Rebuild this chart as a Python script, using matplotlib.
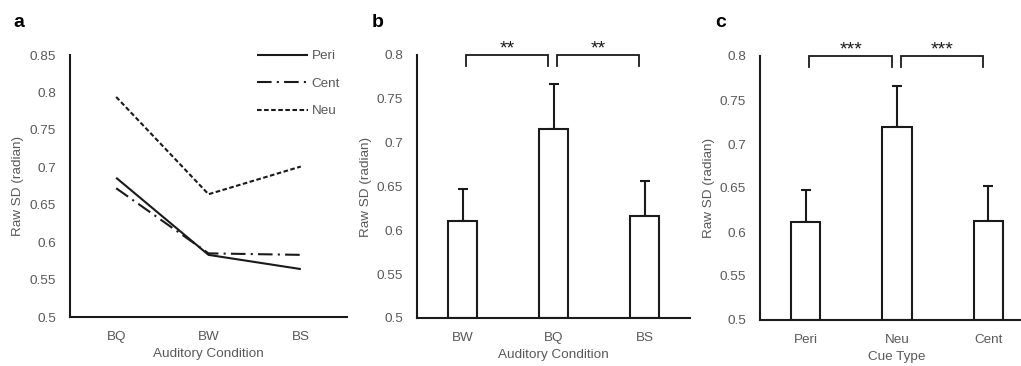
import matplotlib
matplotlib.use("Agg")
import matplotlib.pyplot as plt
from matplotlib.ticker import FuncFormatter

plt.rcParams['font.family'] = ['Liberation Sans', 'DejaVu Sans']

# ---- data ----
a_conditions = ["BQ", "BW", "BS"]
a_peri = [0.686, 0.583, 0.564]
a_cent = [0.672, 0.585, 0.583]
a_neu = [0.794, 0.664, 0.701]

b_conditions = ["BW", "BQ", "BS"]
b_means = [0.611, 0.716, 0.616]
b_err = [0.036, 0.051, 0.040]
b_sig = [(0, 1, "**"), (1, 2, "**")]

c_cues = ["Peri", "Neu", "Cent"]
c_means = [0.611, 0.719, 0.612]
c_err = [0.037, 0.047, 0.040]
c_sig = [(0, 1, "***"), (1, 2, "***")]

W, H = 1021, 366
fig = plt.figure(figsize=(W / 100, H / 100), dpi=100)

TXT = "#595959"
LC = "#1a1a1a"
FS = 9.7

def px_axes(l, r, top, bot):
    return fig.add_axes([l / W, (H - bot) / H, (r - l) / W, (bot - top) / H])

def style(ax, ylim, yticks, cats, xlabel):
    ax.set_xlim(-0.5, 2.5)
    ax.set_ylim(*ylim)
    ax.set_yticks(yticks)
    ax.yaxis.set_major_formatter(FuncFormatter(lambda v, p: f"{v:g}"))
    ax.set_xticks(range(len(cats)))
    ax.set_xticklabels(cats)
    for s in ["top", "right"]:
        ax.spines[s].set_visible(False)
    for s in ["left", "bottom"]:
        ax.spines[s].set_linewidth(1.5)
        ax.spines[s].set_color(LC)
    ax.tick_params(length=0, labelsize=FS, labelcolor=TXT)
    ax.tick_params(axis="y", pad=10)
    ax.tick_params(axis="x", pad=10)
    ax.set_ylabel("Raw SD (radian)", fontsize=FS, color=TXT)
    ax.yaxis.set_label_coords(-0.166, 0.5)
    ax.set_xlabel(xlabel, fontsize=FS, color=TXT)
    ax.xaxis.set_label_coords(0.5, -0.118)
    ax.set_facecolor("none")

# ---- panel a ----
axa = px_axes(70, 347, 55, 317)
x = range(len(a_conditions))
axa.plot(x, a_peri, color=LC, lw=1.5, label="Peri", solid_capstyle="butt")
axa.plot(x, a_cent, color=LC, lw=1.5, dashes=(7, 2.5, 1, 2.5), label="Cent")
axa.plot(x, a_neu, color=LC, lw=1.5, dashes=(2.2, 1.2), label="Neu")
style(axa, (0.5, 0.85), [0.5, 0.55, 0.6, 0.65, 0.7, 0.75, 0.8, 0.85],
      a_conditions, "Auditory Condition")
leg = axa.legend(loc="upper left", bbox_to_anchor=(257 / W, (H - 50) / H),
                 bbox_transform=fig.transFigure, frameon=False, fontsize=FS,
                 handlelength=3.8, handletextpad=0.25, labelspacing=1.12,
                 borderpad=0, borderaxespad=0)
for t in leg.get_texts():
    t.set_color(TXT)

# ---- bar panels ----
def bar_panel(ax, cats, means, err, sig, xlabel):
    xs = range(len(cats))
    ax.bar(xs, [m - 0.5 for m in means], bottom=0.5, width=0.32,
           facecolor="white", edgecolor=LC, linewidth=1.5, zorder=2)
    ax.errorbar(xs, means, yerr=[[0] * len(err), err], fmt="none",
                ecolor=LC, elinewidth=1.5, capsize=3.5, capthick=1.5, zorder=1)
    style(ax, (0.5, 0.8), [0.5, 0.55, 0.6, 0.65, 0.7, 0.75, 0.8], cats, xlabel)
    for i, j, s in sig:
        x0, x1 = i + 0.04, j - 0.055
        ax.plot([x0, x0, x1, x1], [0.7875, 0.8, 0.8, 0.7875], color=LC,
                lw=1.3, clip_on=False, solid_joinstyle="miter")
        ax.text((x0 + x1) / 2, 0.8015, s, ha="center", va="baseline",
                fontsize=14, color=LC, clip_on=False)

axb = px_axes(417, 690, 55, 318)
bar_panel(axb, b_conditions, b_means, b_err, b_sig, "Auditory Condition")

axc = px_axes(760, 1034, 56, 320)
bar_panel(axc, c_cues, c_means, c_err, c_sig, "Cue Type")

# panel letters
for xpix, lab in [(13, "a"), (372, "b"), (715, "c")]:
    fig.text(xpix / W, (H - 27) / H, lab, fontsize=14, fontweight="bold",
             color="black", ha="left", va="baseline")

fig.savefig("out.png", dpi=100)
